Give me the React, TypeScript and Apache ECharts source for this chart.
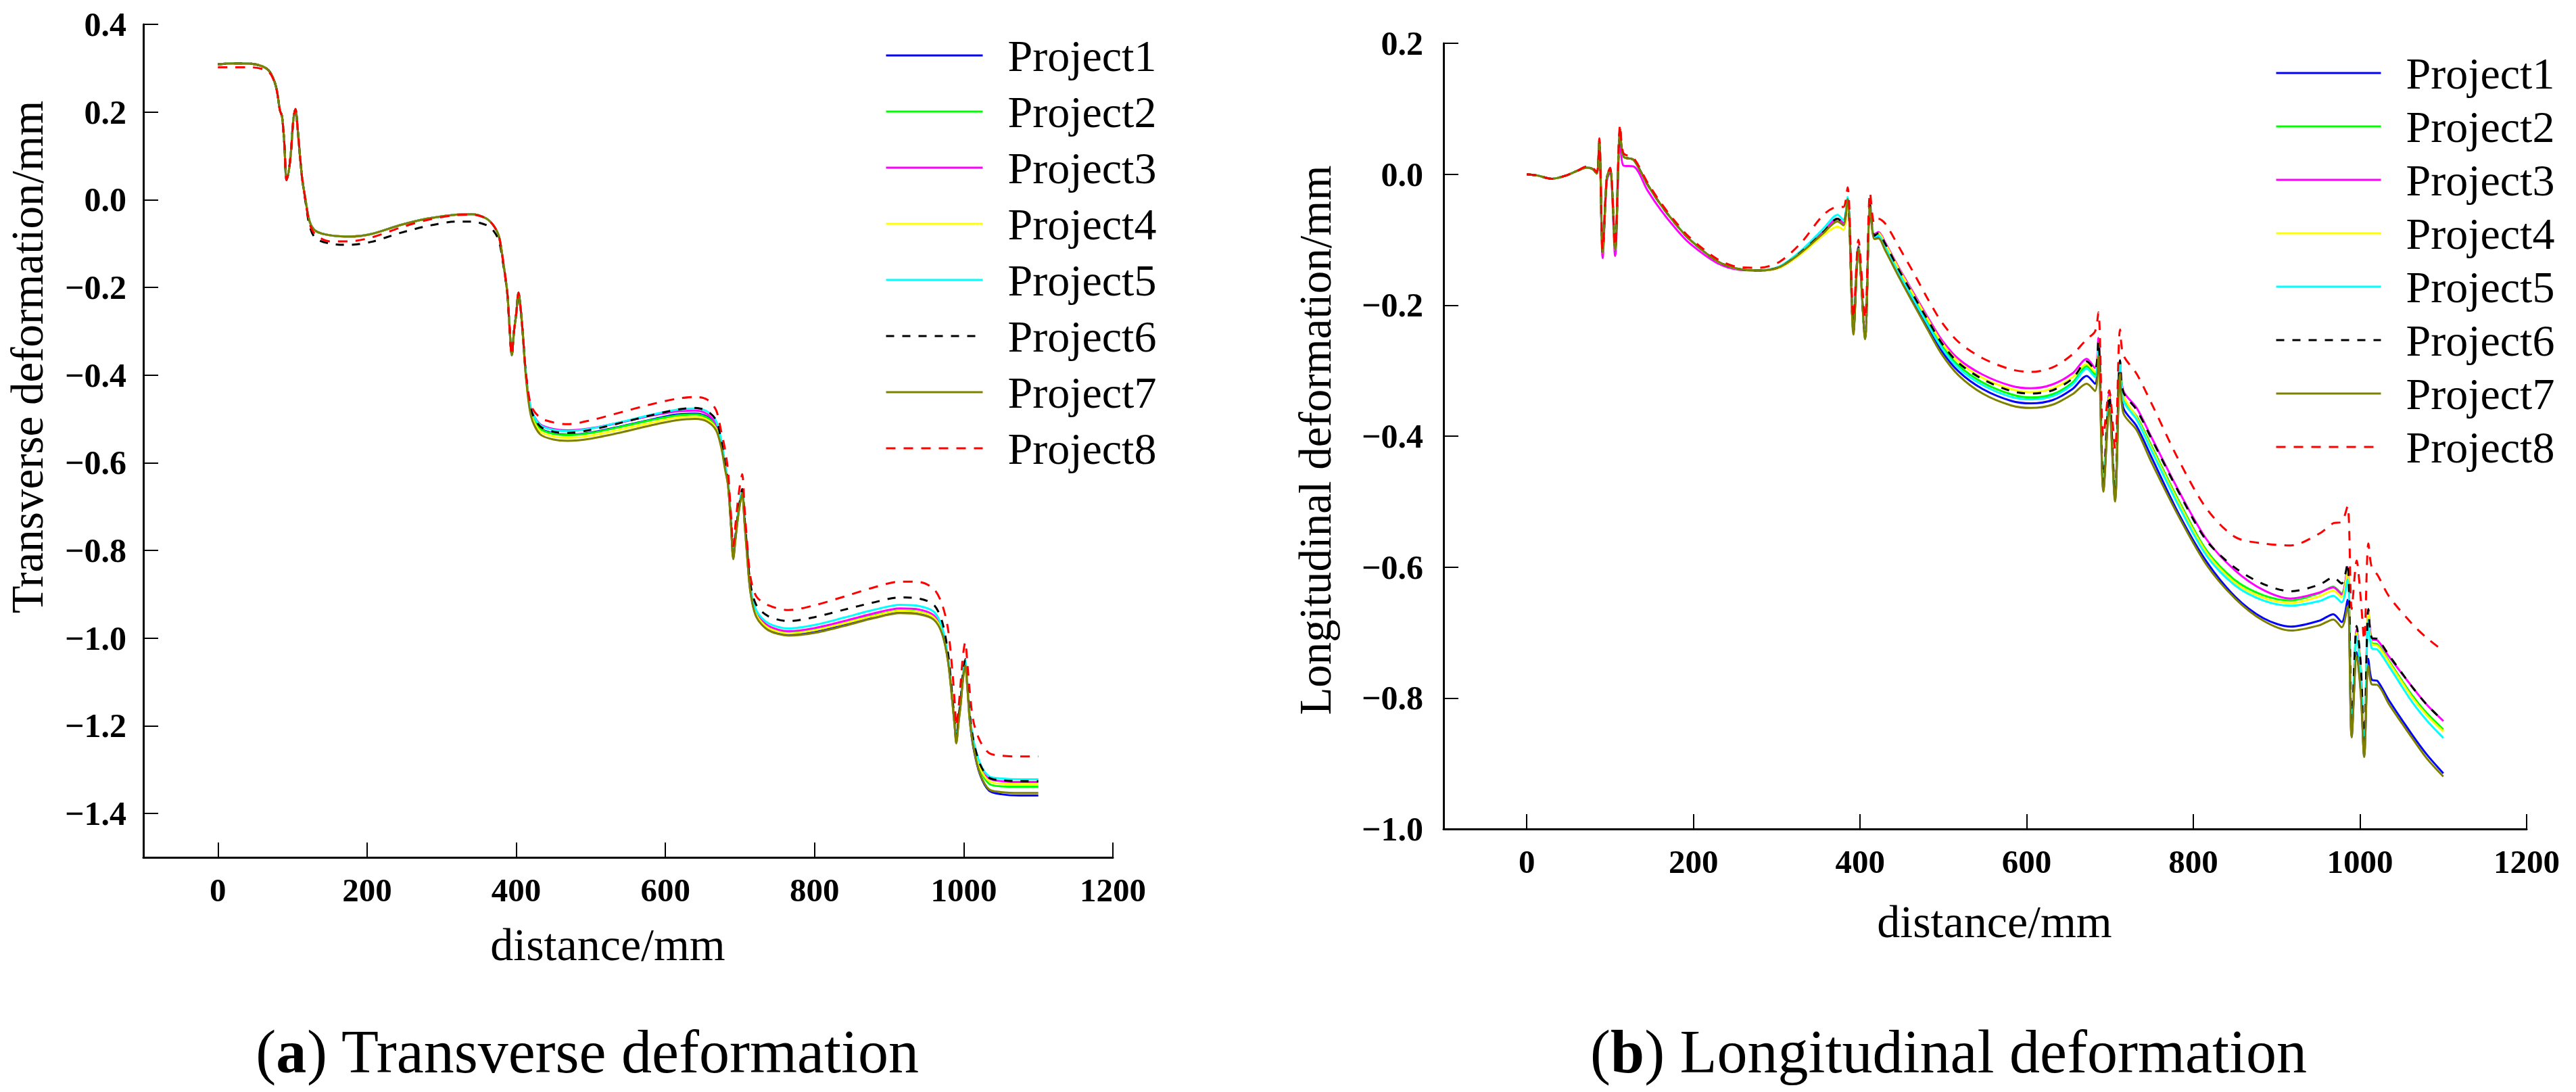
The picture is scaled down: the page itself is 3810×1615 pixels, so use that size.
import React, { useEffect, useRef } from "react";
import * as echarts from "echarts";

const NAMES = ["Project1", "Project2", "Project3", "Project4", "Project5", "Project6", "Project7", "Project8"];
const COLORS = ["#0000ff", "#00ff00", "#ff00ff", "#ffff00", "#00ffff", "#000000", "#808000", "#ff0000"];
const DASHES: any[] = ["solid", "solid", "solid", "solid", "solid", [12, 12], "solid", [14, 12]];

const X_TICKS = [0, 200, 400, 600, 800, 1000, 1200];
const LEFT_Y_TICKS = [-1.4, -1.2, -1.0, -0.8, -0.6, -0.4, -0.2, 0.0, 0.2, 0.4];
const RIGHT_Y_TICKS = [-1.0, -0.8, -0.6, -0.4, -0.2, 0.0, 0.2];

// ---------- (a) Transverse deformation ----------
const LX = [0, 20, 45, 60, 68, 74, 79, 83, 86, 89,
  92, 95, 98, 101, 104, 107, 110, 113, 117, 123,
  131, 150, 176, 206, 244, 281, 319, 341, 360, 370,
  377, 383, 388, 391, 394, 397, 400, 403, 406, 409,
  413, 420, 432, 450, 469, 500, 540, 580, 615, 640,
  656, 668, 675, 680, 684, 688, 691, 694, 697, 700,
  703, 706, 709, 714, 722, 738, 765, 800, 840, 878,
  915, 941, 960, 971, 979, 985, 988, 990, 993, 996,
  999, 1002, 1005, 1008, 1013, 1022, 1034, 1050, 1075, 1100];

const L_P1 = [0.309, 0.311, 0.310, 0.304, 0.295, 0.278, 0.250, 0.205, 0.190, 0.130,
  0.045, 0.065, 0.110, 0.180, 0.207, 0.160, 0.100, 0.048, 0.005, -0.050,
  -0.071, -0.081, -0.084, -0.078, -0.058, -0.043, -0.034, -0.033, -0.043, -0.060,
  -0.085, -0.148, -0.212, -0.290, -0.355, -0.300, -0.260, -0.212, -0.250, -0.310,
  -0.400, -0.485, -0.521, -0.533, -0.536, -0.531, -0.517, -0.502, -0.490, -0.488,
  -0.495, -0.516, -0.560, -0.610, -0.650, -0.742, -0.817, -0.772, -0.727, -0.692,
  -0.667, -0.732, -0.798, -0.893, -0.950, -0.980, -0.992, -0.986, -0.970, -0.953,
  -0.941, -0.944, -0.956, -0.988, -1.052, -1.148, -1.202, -1.238, -1.192, -1.148,
  -1.092, -1.060, -1.114, -1.186, -1.250, -1.312, -1.348, -1.356, -1.359, -1.359];
const L_P2 = [0.309, 0.311, 0.310, 0.304, 0.295, 0.278, 0.250, 0.205, 0.190, 0.130,
  0.045, 0.065, 0.110, 0.180, 0.207, 0.160, 0.100, 0.048, 0.005, -0.050,
  -0.071, -0.081, -0.084, -0.078, -0.058, -0.043, -0.034, -0.033, -0.043, -0.060,
  -0.085, -0.148, -0.212, -0.290, -0.355, -0.300, -0.260, -0.212, -0.250, -0.310,
  -0.400, -0.485, -0.522, -0.534, -0.537, -0.532, -0.518, -0.503, -0.492, -0.490,
  -0.497, -0.518, -0.560, -0.610, -0.648, -0.740, -0.815, -0.770, -0.725, -0.690,
  -0.665, -0.730, -0.795, -0.890, -0.945, -0.975, -0.987, -0.980, -0.964, -0.948,
  -0.937, -0.940, -0.952, -0.985, -1.050, -1.146, -1.200, -1.236, -1.190, -1.146,
  -1.090, -1.057, -1.110, -1.180, -1.242, -1.300, -1.332, -1.338, -1.339, -1.339];
const L_P3 = [0.309, 0.311, 0.310, 0.304, 0.295, 0.278, 0.250, 0.205, 0.190, 0.130,
  0.045, 0.065, 0.110, 0.180, 0.207, 0.160, 0.100, 0.048, 0.005, -0.050,
  -0.071, -0.081, -0.084, -0.078, -0.058, -0.043, -0.034, -0.033, -0.043, -0.060,
  -0.085, -0.148, -0.212, -0.290, -0.355, -0.300, -0.260, -0.212, -0.250, -0.310,
  -0.398, -0.478, -0.512, -0.523, -0.526, -0.521, -0.508, -0.493, -0.483, -0.481,
  -0.489, -0.512, -0.556, -0.607, -0.646, -0.738, -0.812, -0.768, -0.722, -0.688,
  -0.663, -0.728, -0.792, -0.886, -0.942, -0.972, -0.984, -0.977, -0.961, -0.944,
  -0.932, -0.935, -0.948, -0.982, -1.048, -1.144, -1.198, -1.234, -1.188, -1.144,
  -1.088, -1.055, -1.108, -1.176, -1.235, -1.290, -1.320, -1.326, -1.328, -1.328];
const L_P4 = [0.309, 0.311, 0.310, 0.304, 0.295, 0.278, 0.250, 0.205, 0.190, 0.130,
  0.045, 0.065, 0.110, 0.180, 0.207, 0.160, 0.100, 0.048, 0.005, -0.050,
  -0.071, -0.081, -0.084, -0.078, -0.058, -0.043, -0.034, -0.033, -0.043, -0.060,
  -0.085, -0.148, -0.212, -0.290, -0.355, -0.300, -0.260, -0.212, -0.250, -0.310,
  -0.402, -0.490, -0.528, -0.540, -0.543, -0.538, -0.524, -0.509, -0.497, -0.495,
  -0.502, -0.522, -0.563, -0.612, -0.650, -0.742, -0.816, -0.771, -0.726, -0.691,
  -0.667, -0.732, -0.797, -0.891, -0.947, -0.977, -0.989, -0.982, -0.966, -0.950,
  -0.938, -0.941, -0.953, -0.986, -1.051, -1.147, -1.201, -1.237, -1.191, -1.147,
  -1.091, -1.058, -1.111, -1.182, -1.240, -1.296, -1.326, -1.332, -1.333, -1.333];
const L_P5 = [0.309, 0.311, 0.310, 0.304, 0.295, 0.278, 0.250, 0.205, 0.190, 0.130,
  0.045, 0.065, 0.110, 0.180, 0.207, 0.160, 0.100, 0.048, 0.005, -0.050,
  -0.071, -0.081, -0.084, -0.078, -0.058, -0.043, -0.034, -0.033, -0.043, -0.060,
  -0.085, -0.148, -0.212, -0.290, -0.355, -0.300, -0.260, -0.212, -0.250, -0.310,
  -0.396, -0.478, -0.514, -0.525, -0.528, -0.522, -0.507, -0.491, -0.479, -0.476,
  -0.483, -0.505, -0.550, -0.603, -0.644, -0.737, -0.812, -0.767, -0.721, -0.686,
  -0.660, -0.725, -0.790, -0.884, -0.937, -0.966, -0.978, -0.970, -0.953, -0.936,
  -0.924, -0.927, -0.940, -0.975, -1.044, -1.142, -1.197, -1.233, -1.186, -1.141,
  -1.084, -1.050, -1.104, -1.172, -1.232, -1.286, -1.315, -1.320, -1.322, -1.322];
const L_P6 = [0.309, 0.311, 0.310, 0.304, 0.295, 0.278, 0.250, 0.205, 0.190, 0.130,
  0.045, 0.065, 0.110, 0.180, 0.207, 0.160, 0.100, 0.048, 0.000, -0.060,
  -0.088, -0.100, -0.103, -0.096, -0.076, -0.060, -0.050, -0.050, -0.058, -0.072,
  -0.095, -0.152, -0.214, -0.292, -0.356, -0.300, -0.260, -0.212, -0.250, -0.310,
  -0.398, -0.480, -0.517, -0.529, -0.532, -0.525, -0.509, -0.492, -0.479, -0.475,
  -0.482, -0.503, -0.550, -0.603, -0.645, -0.738, -0.812, -0.767, -0.721, -0.686,
  -0.660, -0.722, -0.785, -0.876, -0.925, -0.950, -0.961, -0.952, -0.935, -0.919,
  -0.907, -0.910, -0.924, -0.962, -1.035, -1.138, -1.195, -1.232, -1.184, -1.138,
  -1.080, -1.048, -1.102, -1.172, -1.233, -1.288, -1.318, -1.324, -1.326, -1.326];
const L_P7 = [0.309, 0.311, 0.310, 0.304, 0.295, 0.278, 0.250, 0.205, 0.190, 0.130,
  0.045, 0.065, 0.110, 0.180, 0.207, 0.160, 0.100, 0.048, 0.005, -0.050,
  -0.071, -0.081, -0.084, -0.078, -0.058, -0.043, -0.034, -0.033, -0.043, -0.060,
  -0.085, -0.148, -0.212, -0.290, -0.355, -0.300, -0.260, -0.212, -0.250, -0.310,
  -0.405, -0.495, -0.535, -0.547, -0.550, -0.545, -0.531, -0.515, -0.503, -0.500,
  -0.506, -0.526, -0.566, -0.615, -0.652, -0.744, -0.820, -0.774, -0.729, -0.694,
  -0.669, -0.735, -0.800, -0.895, -0.952, -0.982, -0.994, -0.988, -0.972, -0.955,
  -0.943, -0.946, -0.958, -0.990, -1.054, -1.150, -1.204, -1.240, -1.194, -1.150,
  -1.094, -1.062, -1.116, -1.184, -1.248, -1.310, -1.345, -1.351, -1.353, -1.353];
const L_P8 = [0.302, 0.302, 0.302, 0.298, 0.292, 0.276, 0.248, 0.205, 0.188, 0.128,
  0.045, 0.065, 0.110, 0.180, 0.207, 0.160, 0.100, 0.048, 0.003, -0.055,
  -0.080, -0.095, -0.095, -0.086, -0.064, -0.046, -0.035, -0.034, -0.043, -0.060,
  -0.085, -0.148, -0.212, -0.290, -0.355, -0.300, -0.260, -0.212, -0.250, -0.310,
  -0.395, -0.470, -0.497, -0.508, -0.512, -0.503, -0.485, -0.467, -0.454, -0.450,
  -0.456, -0.480, -0.530, -0.570, -0.620, -0.720, -0.790, -0.740, -0.690, -0.650,
  -0.626, -0.700, -0.770, -0.860, -0.905, -0.925, -0.936, -0.925, -0.905, -0.885,
  -0.871, -0.872, -0.888, -0.923, -0.980, -1.080, -1.150, -1.200, -1.160, -1.100,
  -1.040, -1.009, -1.060, -1.120, -1.190, -1.235, -1.262, -1.268, -1.270, -1.270];

// ---------- (b) Longitudinal deformation ----------
const RX = [0, 13, 30, 47, 60, 72, 79, 84, 87, 91,
  96, 100, 106, 112, 116, 128, 145, 161, 178, 195,
  229, 255, 279, 303, 329, 356, 373, 380, 385, 392,
  398, 406, 412, 417, 422, 430, 447, 464, 481, 498,
  518, 547, 581, 605, 631, 655, 672, 682, 686, 692,
  699, 706, 712, 716, 732, 749, 783, 816, 850, 884,
  917, 951, 968, 978, 985, 990, 996, 1001, 1005, 1010,
  1014, 1021, 1035, 1062, 1080, 1100];

const R_P1 = [0.000, -0.002, -0.007, -0.002, 0.005, 0.010, 0.008, 0.001, 0.051, -0.120,
  -0.006, 0.008, -0.115, 0.068, 0.027, 0.022, -0.016, -0.047, -0.075, -0.099,
  -0.133, -0.145, -0.147, -0.142, -0.119, -0.088, -0.068, -0.075, -0.037, -0.240,
  -0.112, -0.250, -0.047, -0.097, -0.095, -0.113, -0.155, -0.194, -0.233, -0.270,
  -0.301, -0.328, -0.346, -0.350, -0.345, -0.328, -0.308, -0.320, -0.270, -0.482,
  -0.352, -0.497, -0.300, -0.357, -0.385, -0.430, -0.520, -0.592, -0.645, -0.678,
  -0.691, -0.682, -0.672, -0.684, -0.650, -0.858, -0.730, -0.790, -0.888, -0.740,
  -0.772, -0.774, -0.804, -0.855, -0.886, -0.915];
const R_P2 = [0.000, -0.002, -0.007, -0.002, 0.005, 0.010, 0.008, 0.001, 0.051, -0.120,
  -0.006, 0.008, -0.115, 0.068, 0.027, 0.022, -0.016, -0.047, -0.075, -0.099,
  -0.133, -0.145, -0.147, -0.142, -0.119, -0.088, -0.068, -0.075, -0.037, -0.240,
  -0.112, -0.250, -0.047, -0.095, -0.092, -0.109, -0.150, -0.188, -0.226, -0.262,
  -0.292, -0.318, -0.336, -0.341, -0.336, -0.318, -0.293, -0.306, -0.260, -0.477,
  -0.344, -0.494, -0.290, -0.343, -0.370, -0.413, -0.500, -0.575, -0.620, -0.643,
  -0.651, -0.640, -0.630, -0.640, -0.600, -0.854, -0.700, -0.760, -0.885, -0.665,
  -0.716, -0.718, -0.744, -0.795, -0.823, -0.848];
const R_P3 = [0.000, -0.002, -0.007, -0.002, 0.005, 0.010, 0.008, 0.001, 0.048, -0.128,
  -0.010, 0.004, -0.125, 0.055, 0.013, 0.012, -0.025, -0.055, -0.082, -0.105,
  -0.136, -0.146, -0.147, -0.142, -0.119, -0.088, -0.068, -0.075, -0.037, -0.238,
  -0.110, -0.248, -0.046, -0.092, -0.088, -0.104, -0.144, -0.181, -0.218, -0.253,
  -0.282, -0.306, -0.323, -0.327, -0.321, -0.304, -0.282, -0.296, -0.250, -0.470,
  -0.335, -0.488, -0.285, -0.331, -0.357, -0.400, -0.485, -0.558, -0.605, -0.635,
  -0.648, -0.639, -0.631, -0.642, -0.600, -0.850, -0.695, -0.755, -0.880, -0.665,
  -0.710, -0.712, -0.737, -0.782, -0.810, -0.835];
const R_P4 = [0.000, -0.002, -0.007, -0.002, 0.005, 0.010, 0.008, 0.001, 0.051, -0.120,
  -0.006, 0.008, -0.115, 0.068, 0.027, 0.022, -0.016, -0.047, -0.075, -0.099,
  -0.133, -0.145, -0.147, -0.143, -0.122, -0.093, -0.080, -0.085, -0.040, -0.240,
  -0.112, -0.250, -0.047, -0.094, -0.090, -0.106, -0.146, -0.184, -0.221, -0.257,
  -0.286, -0.311, -0.328, -0.333, -0.327, -0.310, -0.290, -0.302, -0.258, -0.475,
  -0.340, -0.492, -0.290, -0.338, -0.372, -0.416, -0.503, -0.578, -0.624, -0.647,
  -0.655, -0.645, -0.636, -0.646, -0.605, -0.852, -0.700, -0.760, -0.882, -0.668,
  -0.718, -0.720, -0.746, -0.798, -0.826, -0.851];
const R_P5 = [0.000, -0.002, -0.007, -0.002, 0.005, 0.010, 0.008, 0.001, 0.051, -0.120,
  -0.006, 0.008, -0.115, 0.068, 0.027, 0.022, -0.016, -0.047, -0.075, -0.099,
  -0.133, -0.145, -0.147, -0.141, -0.117, -0.083, -0.062, -0.070, -0.035, -0.240,
  -0.112, -0.250, -0.047, -0.096, -0.094, -0.111, -0.152, -0.191, -0.229, -0.265,
  -0.296, -0.322, -0.340, -0.344, -0.339, -0.321, -0.297, -0.310, -0.262, -0.478,
  -0.346, -0.495, -0.288, -0.346, -0.375, -0.420, -0.508, -0.583, -0.628, -0.651,
  -0.659, -0.652, -0.644, -0.654, -0.619, -0.850, -0.705, -0.765, -0.880, -0.680,
  -0.724, -0.726, -0.752, -0.805, -0.834, -0.861];
const R_P6 = [0.000, -0.002, -0.007, -0.002, 0.005, 0.010, 0.008, 0.001, 0.051, -0.120,
  -0.006, 0.008, -0.115, 0.068, 0.027, 0.022, -0.016, -0.047, -0.075, -0.099,
  -0.133, -0.145, -0.147, -0.142, -0.119, -0.088, -0.068, -0.075, -0.040, -0.240,
  -0.112, -0.250, -0.047, -0.094, -0.090, -0.106, -0.147, -0.185, -0.222, -0.258,
  -0.288, -0.313, -0.331, -0.335, -0.330, -0.312, -0.286, -0.299, -0.255, -0.472,
  -0.338, -0.490, -0.284, -0.333, -0.360, -0.402, -0.487, -0.560, -0.601, -0.626,
  -0.637, -0.627, -0.616, -0.625, -0.594, -0.845, -0.690, -0.750, -0.878, -0.664,
  -0.708, -0.710, -0.735, -0.782, -0.810, -0.835];
const R_P7 = [0.000, -0.002, -0.007, -0.002, 0.005, 0.010, 0.008, 0.001, 0.051, -0.120,
  -0.006, 0.008, -0.115, 0.068, 0.027, 0.022, -0.016, -0.047, -0.075, -0.099,
  -0.133, -0.145, -0.147, -0.142, -0.120, -0.090, -0.072, -0.078, -0.038, -0.245,
  -0.114, -0.252, -0.050, -0.099, -0.098, -0.116, -0.158, -0.198, -0.237, -0.275,
  -0.307, -0.335, -0.353, -0.357, -0.352, -0.336, -0.320, -0.331, -0.278, -0.485,
  -0.358, -0.500, -0.305, -0.365, -0.391, -0.438, -0.524, -0.597, -0.648, -0.682,
  -0.697, -0.689, -0.680, -0.692, -0.660, -0.860, -0.735, -0.795, -0.890, -0.750,
  -0.779, -0.780, -0.810, -0.860, -0.892, -0.920];
const R_P8 = [0.000, -0.002, -0.007, -0.002, 0.005, 0.012, 0.010, 0.003, 0.055, -0.115,
  -0.004, 0.010, -0.110, 0.075, 0.032, 0.025, -0.013, -0.044, -0.072, -0.096,
  -0.130, -0.142, -0.143, -0.134, -0.105, -0.062, -0.050, -0.050, -0.020, -0.220,
  -0.100, -0.220, -0.028, -0.075, -0.068, -0.075, -0.112, -0.150, -0.190, -0.226,
  -0.256, -0.281, -0.298, -0.302, -0.295, -0.275, -0.252, -0.240, -0.211, -0.400,
  -0.330, -0.420, -0.237, -0.276, -0.305, -0.348, -0.438, -0.511, -0.554, -0.564,
  -0.567, -0.549, -0.533, -0.531, -0.507, -0.664, -0.590, -0.650, -0.711, -0.564,
  -0.600, -0.612, -0.645, -0.686, -0.708, -0.728];

const LEFT_SERIES = [L_P1, L_P2, L_P3, L_P4, L_P5, L_P6, L_P7, L_P8];
const RIGHT_SERIES = [R_P1, R_P2, R_P3, R_P4, R_P5, R_P6, R_P7, R_P8];

const SERIF = "Liberation Serif";

const fmtY = (v: number) => {
  const s = Math.abs(v).toFixed(1);
  return v < -1e-9 ? "\u2212" + s : s;
};

function makeXAxis(gridIndex: number) {
  return {
    type: "value",
    gridIndex,
    min: -100,
    max: 1200,
    axisLine: { show: true, onZero: false, lineStyle: { color: "#000", width: 3 } },
    axisTick: { show: true, inside: true, length: 22, customValues: X_TICKS, lineStyle: { color: "#000", width: 2 } },
    axisLabel: {
      show: true,
      customValues: X_TICKS,
      margin: 24,
      color: "#000",
      fontFamily: SERIF,
      fontWeight: "bold",
      fontSize: 49,
      formatter: (v: number) => String(v),
    },
    splitLine: { show: false },
  };
}

function makeYAxis(gridIndex: number, min: number, max: number, ticks: number[], margin: number) {
  return {
    type: "value",
    gridIndex,
    min,
    max,
    axisLine: { show: true, onZero: false, lineStyle: { color: "#000", width: 3 } },
    axisTick: { show: true, inside: true, length: 22, customValues: ticks, lineStyle: { color: "#000", width: 2 } },
    axisLabel: {
      show: true,
      customValues: ticks,
      margin,
      color: "#000",
      fontFamily: SERIF,
      fontWeight: "bold",
      fontSize: 50,
      formatter: fmtY,
    },
    splitLine: { show: false },
  };
}

function makeSeries(xs: number[], ys: number[], i: number, axisIndex: number) {
  return {
    type: "line",
    name: NAMES[i],
    xAxisIndex: axisIndex,
    yAxisIndex: axisIndex,
    data: xs.map((x, k) => [x, ys[k]]),
    symbol: "none",
    showSymbol: false,
    smooth: 0.3,
    lineStyle: { color: COLORS[i], width: 3, type: DASHES[i] },
    itemStyle: { color: COLORS[i] },
    z: 2 + i,
  };
}

function makeLegend(left: number, top: number, gap: number, itemWidth: number) {
  return {
    data: NAMES,
    orient: "vertical",
    left,
    top,
    itemWidth,
    itemHeight: 20,
    itemGap: gap,
    selectedMode: false,
    itemStyle: { opacity: 0, borderWidth: 0 },
    lineStyle: { width: 3 },
    textStyle: {
      fontFamily: SERIF,
      fontSize: 66,
      color: "#000",
      lineHeight: 66,
      padding: [0, 0, 0, 32],
    },
  };
}

function textEl(text: string, x: number, y: number, size: number, rotation = 0) {
  return {
    type: "text",
    x,
    y,
    rotation,
    style: {
      text,
      fill: "#000",
      font: `${size}px ${SERIF}`,
      align: "center",
      verticalAlign: "middle",
      textAlign: "center",
      textVerticalAlign: "middle",
    },
  };
}

function captionEl(letter: string, rest: string, x: number, y: number) {
  return {
    type: "text",
    x,
    y,
    style: {
      text: `{n|(}{b|${letter}}{n|) ${rest}}`,
      fill: "#000",
      align: "center",
      verticalAlign: "middle",
      textAlign: "center",
      textVerticalAlign: "middle",
      rich: {
        n: { fontFamily: SERIF, fontSize: 90, fill: "#000", color: "#000" },
        b: { fontFamily: SERIF, fontSize: 90, fontWeight: "bold", fill: "#000", color: "#000" },
      },
    },
  };
}

export default function App() {
  const ref = useRef<HTMLDivElement>(null);
  useEffect(() => {
    if (!ref.current) return;
    const chart = echarts.init(ref.current, undefined, { renderer: "svg" });
    const series: any[] = [];
    LEFT_SERIES.forEach((ys, i) => series.push(makeSeries(LX, ys, i, 0)));
    RIGHT_SERIES.forEach((ys, i) => series.push(makeSeries(RX, ys, i, 1)));
    chart.setOption({
      animation: false,
      backgroundColor: "#ffffff",
      textStyle: { fontFamily: SERIF },
      grid: [
        { left: 212, top: 36, width: 1434, height: 1232, containLabel: false },
        { left: 2135, top: 64, width: 1602, height: 1162, containLabel: false },
      ],
      xAxis: [makeXAxis(0), makeXAxis(1)],
      yAxis: [
        makeYAxis(0, -1.5, 0.4, LEFT_Y_TICKS, 25),
        makeYAxis(1, -1.0, 0.2, RIGHT_Y_TICKS, 30),
      ],
      legend: [makeLegend(1304, 44, 17, 143), makeLegend(3360, 70, 13, 155)],
      series,
      graphic: [
        textEl("Transverse deformation/mm", 40, 528, 67, Math.PI / 2),
        textEl("Longitudinal deformation/mm", 1945, 651, 67, Math.PI / 2),
        textEl("distance/mm", 899, 1397, 68),
        textEl("distance/mm", 2950, 1363, 68),
        captionEl("a", "Transverse deformation", 869, 1555),
        captionEl("b", "Longitudinal deformation", 2882, 1555),
      ],
    });
    return () => chart.dispose();
  }, []);
  return (
    <div
      ref={ref}
      style={{ position: "absolute", left: 0, top: 0, width: 3810, height: 1615, background: "#fff" }}
    />
  );
}
